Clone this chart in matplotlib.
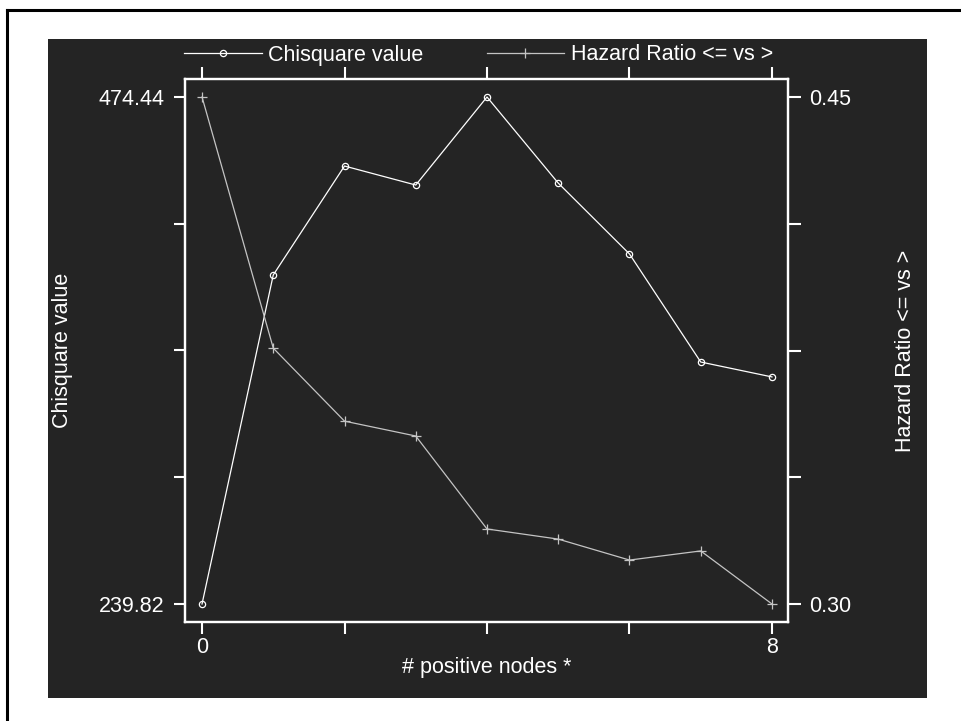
import matplotlib
matplotlib.use("Agg")
import matplotlib.pyplot as plt
from matplotlib.patches import Rectangle
from matplotlib.lines import Line2D

plt.rcParams['font.family'] = ['Liberation Sans', 'DejaVu Sans']

nodes = [0, 1, 2, 3, 4, 5, 6, 7, 8]
chisq = [239.82, 392.1, 442.5, 433.7, 474.44, 434.6, 401.8, 351.8, 344.9]
hazard = [0.45, 0.3757, 0.3541, 0.3497, 0.3222, 0.3192, 0.3130, 0.3157, 0.30]
left_ticks = [239.82, 298.475, 357.13, 415.785, 474.44]
left_labels = ["239.82", "", "", "", "474.44"]
right_ticks = [0.30, 0.3375, 0.375, 0.4125, 0.45]
right_labels = ["0.30", "", "", "", "0.45"]
x_ticks = [0, 2, 4, 6, 8]
x_labels = ["0", "", "", "", "8"]

W, H = 961, 721
fig = plt.figure(figsize=(W / 100, H / 100), dpi=100, facecolor='white')

panel = '#242424'
bg = Rectangle((48 / W, 1 - 698 / H), 879 / W, 659 / H,
               transform=fig.transFigure, facecolor=panel,
               edgecolor='none', zorder=-10)
fig.add_artist(bg)
fig.add_artist(Line2D([7 / W, 1.0], [1 - 9.5 / H, 1 - 9.5 / H], color='black', lw=2.2))
fig.add_artist(Line2D([7 / W, 7 / W], [0, 1 - 9.5 / H], color='black', lw=2.2))

ax = fig.add_axes([185 / W, 1 - 622 / H, 603 / W, 543 / H])
ax.set_facecolor(panel)
ax2 = ax.twinx()
ax.set_zorder(1)
ax2.set_zorder(2)

fs = 15.5
l1, = ax.plot(nodes, chisq, color='white', lw=0.9, marker='o', markersize=4.5,
              markerfacecolor='none', markeredgecolor='white', markeredgewidth=0.9,
              label='Chisquare value')
l2, = ax2.plot(nodes, hazard, color='#c4c4c4', lw=0.9, marker='+', markersize=7,
               markeredgewidth=0.9, label='Hazard Ratio <= vs >')

ax.set_xlim(-0.239, 8.225)
ax.set_ylim(231.49, 482.77)
ax2.set_ylim(0.30 - 18 * 0.15 / 507, 0.45 + 18 * 0.15 / 507)

ax.set_xticks(x_ticks)
ax.set_xticklabels(x_labels)
ax.set_yticks(left_ticks)
ax.set_yticklabels(left_labels)
ax2.set_yticks(right_ticks)
ax2.set_yticklabels(right_labels)

for a in (ax, ax2):
    for s in a.spines.values():
        s.set_color('white')
        s.set_linewidth(1.6)
ax.tick_params(axis='y', colors='white', length=8, width=1.5, labelsize=fs,
               direction='out', pad=6.5)
ax.tick_params(axis='x', colors='white', length=8.6, width=1.5, labelsize=fs,
               direction='out', pad=2.5, top=True, labeltop=False)
ax2.tick_params(axis='y', colors='white', length=9.2, width=1.5, labelsize=fs,
                direction='out', pad=5.8)

ax.set_ylabel('Chisquare value', color='white', fontsize=fs)
ax.yaxis.set_label_coords((62 - 185) / 603, 0.5)
ax.yaxis.label.set_verticalalignment('center')
ax2.set_ylabel('Hazard Ratio <= vs >', color='white', fontsize=fs)
ax2.yaxis.set_label_coords((905 - 185) / 603, 0.5)
ax2.yaxis.label.set_verticalalignment('center')
ax.set_xlabel('# positive nodes *', color='white', fontsize=fs)
ax.xaxis.set_label_coords(0.5, (622 - 667) / 543)
ax.xaxis.label.set_verticalalignment('center')

leg = fig.legend(handles=[l1, l2], loc='center left', ncol=2,
                 bbox_to_anchor=(184 / W, 1 - 55 / H), frameon=False,
                 fontsize=fs, handlelength=3.6, handletextpad=0.3,
                 columnspacing=2.95, borderpad=0, borderaxespad=0)
for t in leg.get_texts():
    t.set_color('white')

fig.savefig('out.png', dpi=100, facecolor='white')
